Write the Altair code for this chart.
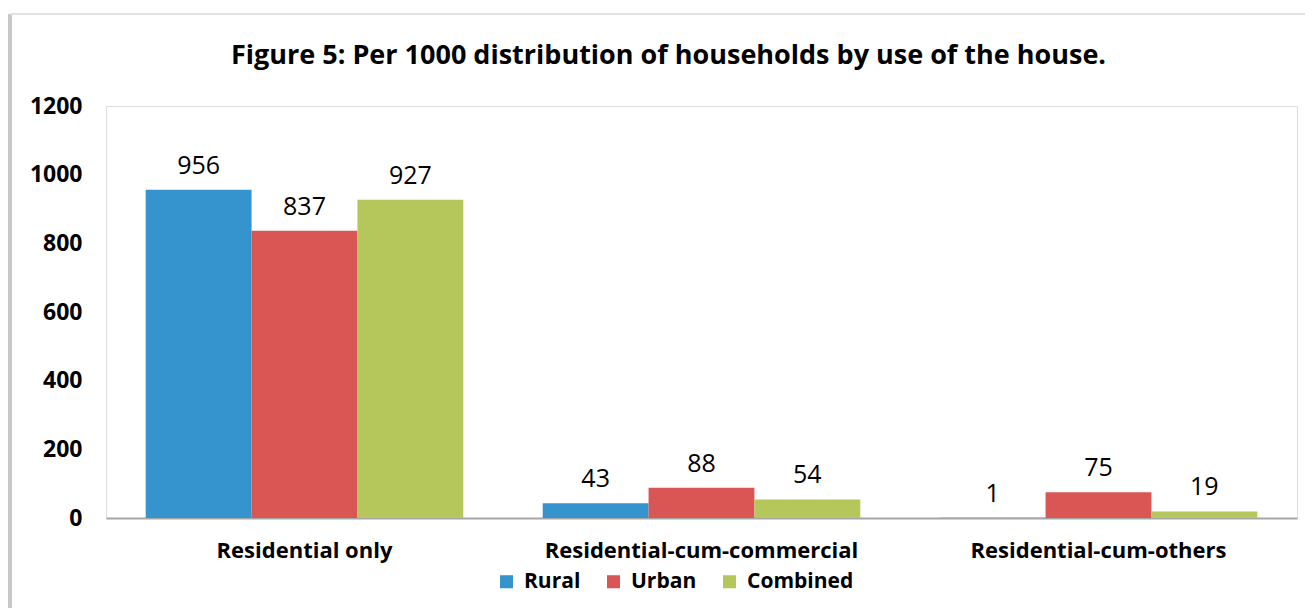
import altair as alt
import pandas as pd

groups = ["Residential only", "Residential-cum-commercial", "Residential-cum-others"]
series = ["Rural", "Urban", "Combined"]
rural = [956, 43, 1]
urban = [837, 88, 75]
combined = [927, 54, 19]
colors = ["#3594CE", "#D95654", "#B5C65A"]

rows = []
for i, g in enumerate(groups):
    for s, vals in zip(series, [rural, urban, combined]):
        rows.append({"group": g, "series": s, "value": vals[i]})
df = pd.DataFrame(rows)

FONT = "Open Sans"

base = alt.Chart(df).encode(
    x=alt.X("group:N", sort=groups, title=None,
            scale=alt.Scale(paddingInner=0.2, paddingOuter=0.1),
            axis=alt.Axis(labelAngle=0, labelFont=FONT, labelFontSize=22, labelFontWeight="bold",
                          labelColor="#000000", labelPadding=22, ticks=False, labelLimit=0,
                          domainColor="#A6A6A6", domainWidth=2)),
    xOffset=alt.XOffset("series:N", sort=series),
)

bars = base.mark_bar().encode(
    y=alt.Y("value:Q", title=None,
            scale=alt.Scale(domain=[0, 1200], nice=False),
            axis=alt.Axis(values=[0, 200, 400, 600, 800, 1000, 1200], grid=False, ticks=False,
                          domain=False, format="d", labelFont=FONT, labelFontSize=23,
                          labelFontWeight="bold", labelColor="#000000", labelPadding=24)),
    color=alt.Color("series:N", sort=series,
                    scale=alt.Scale(domain=series, range=colors),
                    legend=alt.Legend(title=None, orient="none", direction="horizontal",
                                      legendX=390, legendY=465, symbolType="square",
                                      symbolSize=170, symbolStrokeWidth=0, symbolOpacity=1,
                                      labelFont=FONT, labelFontSize=21, labelFontWeight="bold",
                                      labelColor="#000000", columnPadding=22, labelOffset=7)),
)

labels = base.mark_text(baseline="bottom", dy=-11, font=FONT, fontSize=25, color="#000000").encode(
    y=alt.Y("value:Q"),
    text=alt.Text("value:Q"),
)

frame_left = alt.Chart(df).mark_rule(color="#C8C8C8", strokeWidth=3, clip=False).encode(
    x=alt.value(-96), y=alt.value(-92), y2=alt.value(600))
frame_top = alt.Chart(df).mark_rule(color="#E2E2E2", strokeWidth=2, clip=False).encode(
    x=alt.value(-96), x2=alt.value(1300), y=alt.value(-92))

chart = alt.layer(frame_left, frame_top, bars, labels).properties(
    width=1191, height=412,
    autosize=alt.AutoSizeParams(type="none"),
    padding={"left": 98, "top": 98, "right": 8, "bottom": 90},
    title=alt.Title("Figure 5: Per 1000 distribution of households by use of the house.",
                    font=FONT, fontSize=27, fontWeight="bold", color="#000000",
                    anchor="middle", dx=-33, offset=-57),
).configure_view(fill="#F2DFBE", stroke=None).configure(background="#FFFFFF")

chart.save("out.html", embed_options={"renderer": "svg", "actions": False})
